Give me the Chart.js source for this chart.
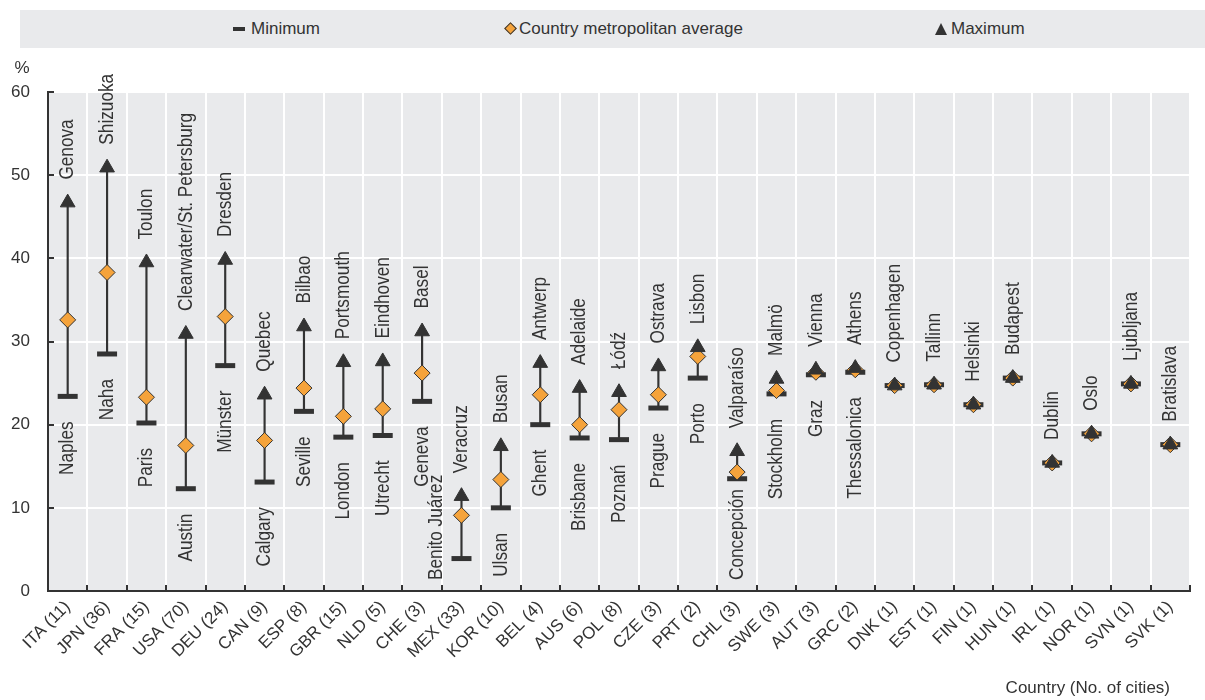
<!DOCTYPE html>
<html>
<head>
<meta charset="utf-8">
<script src="https://cdn.jsdelivr.net/npm/chart.js@4.4.1/dist/chart.umd.min.js"></script>
<style>
  body { margin: 0; background: #fff; }
  #wrap { position: relative; width: 1205px; height: 700px; }
  #legend { position: absolute; left: 20px; top: 10px; width: 1185px; height: 38px; background: #e9eaec; }
  .item { position: absolute; top: 0; height: 38px; line-height: 38px; color: #333; white-space: nowrap; }
  .dash { position: absolute; left: 0; top: 17px; width: 12px; height: 4px; background: #333; }
  .diam { position: absolute; left: 1px; top: 14px; width: 7px; height: 7px; background: #f5a33b; border: 1px solid #333; transform: rotate(45deg); }
  .tri { position: absolute; left: 0; top: 13px; width: 0; height: 0; border-left: 6.5px solid transparent; border-right: 6.5px solid transparent; border-bottom: 12px solid #333; }
  .item span.txt { position: absolute; left: 18px; top: 0; }
</style>
</head>
<body>
<div id="wrap">
  <canvas id="myChart" width="1205" height="700"></canvas>
  <div id="legend">
    <div class="item" style="left:213px"><div class="dash"></div><span class="txt">Minimum</span></div>
    <div class="item" style="left:485px"><div class="diam"></div><span class="txt" style="left:14px">Country metropolitan average</span></div>
    <div class="item" style="left:915px"><div class="tri"></div><span class="txt" style="left:16px">Maximum</span></div>
  </div>
</div>
<script>
let categories = ['ITA (11)', 'JPN (36)', 'FRA (15)', 'USA (70)', 'DEU (24)', 'CAN (9)', 'ESP (8)', 'GBR (15)', 'NLD (5)', 'CHE (3)',
    'MEX (33)', 'KOR (10)', 'BEL (4)', 'AUS (6)', 'POL (8)', 'CZE (3)', 'PRT (2)', 'CHL (3)', 'SWE (3)', 'AUT (3)',
    'GRC (2)', 'DNK (1)', 'EST (1)', 'FIN (1)', 'HUN (1)', 'IRL (1)', 'NOR (1)', 'SVN (1)', 'SVK (1)'];

let minVals = [23.4, 28.5, 20.2, 12.3, 27.1, 13.1, 21.6, 18.5, 18.7, 22.8,
    3.9, 10.0, 20.0, 18.4, 18.2, 22.0, 25.6, 13.5, 23.7, 26.0,
    26.3, 24.7, 24.8, 22.4, 25.6, 15.4, 18.9, 24.9, 17.6];
let avgVals = [32.6, 38.3, 23.3, 17.5, 33.0, 18.1, 24.4, 21.0, 21.9, 26.2,
    9.1, 13.4, 23.6, 20.0, 21.8, 23.6, 28.2, 14.3, 24.1, 26.3,
    26.6, 24.7, 24.8, 22.4, 25.6, 15.4, 18.9, 24.9, 17.6];
let maxVals = [46.7, 50.9, 39.5, 30.9, 39.8, 23.6, 31.8, 27.5, 27.6, 31.2,
    11.4, 17.4, 27.4, 24.4, 23.9, 27.0, 29.3, 16.8, 25.5, 26.6,
    26.8, 24.7, 24.8, 22.4, 25.6, 15.4, 18.9, 24.9, 17.6];

let maxCities = ['Genova', 'Shizuoka', 'Toulon', 'Clearwater/St. Petersburg', 'Dresden', 'Quebec', 'Bilbao', 'Portsmouth', 'Eindhoven', 'Basel',
    'Veracruz', 'Busan', 'Antwerp', 'Adelaide', 'Łódź', 'Ostrava', 'Lisbon', 'Valparaíso', 'Malmö', 'Vienna',
    'Athens', 'Copenhagen', 'Tallinn', 'Helsinki', 'Budapest', 'Dublin', 'Oslo', 'Ljubljana', 'Bratislava'];
let minCities = ['Naples', 'Naha', 'Paris', 'Austin', 'Münster', 'Calgary', 'Seville', 'London', 'Utrecht', 'Geneva',
    'Benito Juárez', 'Ulsan', 'Ghent', 'Brisbane', 'Poznań', 'Prague', 'Porto', 'Concepción', 'Stockholm', 'Graz',
    'Thessalonica', '', '', '', '', '', '', '', ''];

let yTicks = [0, 10, 20, 30, 40, 50, 60];

// pick a narrow face if one is installed
function hasFont(name) {
    let c = document.createElement('canvas').getContext('2d');
    c.font = '40px monospace';
    let a = c.measureText('abcdefghijklmnopqrstuvwxyz').width;
    c.font = `40px "${name}", monospace`;
    return c.measureText('abcdefghijklmnopqrstuvwxyz').width !== a;
}
let narrow = hasFont('Liberation Sans Narrow');
let family = narrow ? '"Liberation Sans Narrow", "Liberation Sans", Arial, sans-serif' : '"Liberation Sans", Arial, sans-serif';
let squeeze = narrow ? 1 : 0.82;
let tickSize = narrow ? 20 : 17;
document.getElementById('legend').style.fontFamily = family;
document.getElementById('legend').style.fontSize = tickSize + 'px';

const dark = '#333333';

let plotBg = {
    id: 'plotBg',
    beforeDraw(chart) {
        let {ctx, chartArea: a} = chart;
        ctx.save();
        ctx.fillStyle = '#e9eaec';
        ctx.fillRect(a.left, a.top, a.right - a.left, a.bottom - a.top);
        ctx.restore();
    }
};

let innerTicks = {
    id: 'innerTicks',
    beforeDatasetsDraw(chart) {
        let {ctx, chartArea: a} = chart;
        let x = chart.scales.x, y = chart.scales.y;
        ctx.save();
        ctx.strokeStyle = dark;
        ctx.lineWidth = 2;
        ctx.beginPath();
        for (let i = 0; i <= categories.length; i++) {
            let px = Math.round(x.getPixelForValue(i - 0.5));
            ctx.moveTo(px, a.bottom);
            ctx.lineTo(px, a.bottom - 6);
        }
        yTicks.forEach(v => {
            let py = Math.round(y.getPixelForValue(v));
            ctx.moveTo(a.left, py);
            ctx.lineTo(a.left + 6, py);
        });
        ctx.stroke();
        ctx.restore();
    }
};

let cityLabels = {
    id: 'cityLabels',
    afterDatasetsDraw(chart) {
        let {ctx, chartArea: a} = chart;
        let x = chart.scales.x, y = chart.scales.y;
        ctx.save();
        ctx.fillStyle = dark;
        ctx.font = `21px ${family}`;
        ctx.textBaseline = 'middle';
        for (let i = 0; i < categories.length; i++) {
            let px = x.getPixelForValue(i);
            // top city, reading upwards
            let yTop = y.getPixelForValue(maxVals[i]) - 23;
            ctx.save();
            ctx.translate(px, yTop);
            ctx.rotate(-Math.PI / 2);
            ctx.scale(squeeze, 1);
            ctx.textAlign = 'left';
            ctx.fillText(maxCities[i], 0, 0);
            ctx.restore();

            if (!minCities[i]) continue;
            let yMin = y.getPixelForValue(minVals[i]);
            let w = ctx.measureText(minCities[i]).width * squeeze;
            let start = yMin + 25;
            let lx = px;
            if (start + w > a.bottom - 11) {
                start = a.bottom - 11 - w;
                if (start < yMin + 8) lx = px - 25;
            }
            ctx.save();
            ctx.translate(lx, start);
            ctx.rotate(-Math.PI / 2);
            ctx.scale(squeeze, 1);
            ctx.textAlign = 'right';
            ctx.fillText(minCities[i], 0, 0);
            ctx.restore();
        }
        ctx.restore();
    },
    afterDraw(chart) {
        let {ctx, chartArea: a} = chart;
        ctx.save();
        ctx.fillStyle = dark;
        ctx.font = `${tickSize}px ${family}`;
        ctx.textBaseline = 'middle';
        ctx.textAlign = 'center';
        ctx.fillText('%', 22, a.top - 24);
        ctx.textAlign = 'right';
        ctx.fillText('Country (No. of cities)', 1170, 688);
        ctx.restore();
    }
};

let ctx = document.getElementById('myChart').getContext('2d');
let chart = new Chart(ctx, {
    type: 'bar',
    data: {
        labels: categories,
        datasets: [{
            type: 'line',
            label: 'Maximum',
            data: maxVals,
            showLine: false,
            pointStyle: 'triangle',
            pointRadius: 8.5,
            pointBackgroundColor: dark,
            pointBorderColor: dark,
            pointBorderWidth: 1
        }, {
            type: 'line',
            label: 'Country metropolitan average',
            data: avgVals,
            showLine: false,
            pointStyle: 'rectRot',
            pointRadius: 8,
            pointBackgroundColor: '#f5a33b',
            pointBorderColor: dark,
            pointBorderWidth: 1
        }, {
            type: 'line',
            label: 'Minimum',
            data: minVals,
            showLine: false,
            pointStyle: 'line',
            pointRadius: 10,
            pointBorderColor: dark,
            pointBorderWidth: 5
        }, {
            label: 'range',
            data: minVals.map((m, i) => [m, maxVals[i]]),
            backgroundColor: dark,
            barThickness: 1.5,
            borderWidth: 0
        }]
    },
    options: {
        responsive: false,
        animation: false,
        layout: {padding: {top: 92, right: 1, left: 0, bottom: 0}},
        plugins: {legend: {display: false}, tooltip: {enabled: false}},
        scales: {
            x: {
                offset: true,
                grid: {color: '#ffffff', lineWidth: 2, offset: true, drawTicks: false},
                border: {color: dark, width: 2},
                ticks: {
                    color: dark,
                    font: {family: family, size: tickSize},
                    minRotation: 45,
                    maxRotation: 45,
                    padding: 6,
                    autoSkip: false
                },
                afterFit(scale) { scale.height = 109; }
            },
            y: {
                min: 0,
                max: 60,
                grid: {color: '#ffffff', lineWidth: 2, drawTicks: false},
                border: {color: dark, width: 2},
                ticks: {
                    stepSize: 10,
                    color: dark,
                    font: {family: family, size: tickSize},
                    padding: 18
                },
                afterFit(scale) { scale.width = 48; }
            }
        }
    },
    plugins: [plotBg, innerTicks, cityLabels]
});
</script>
</body>
</html>
